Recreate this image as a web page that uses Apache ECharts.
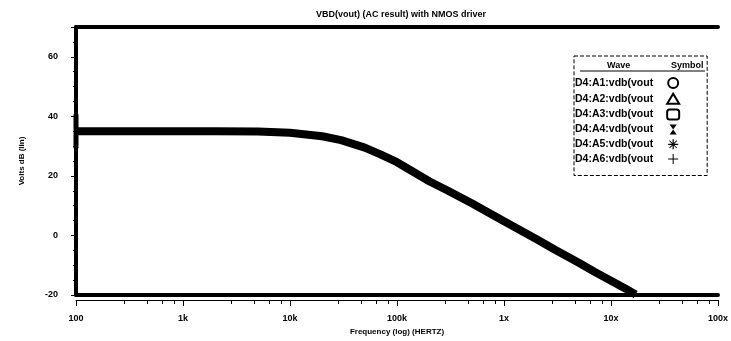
<!DOCTYPE html>
<html>
<head>
<meta charset="utf-8">
<script src="https://cdn.jsdelivr.net/npm/echarts@6/dist/echarts.min.js"></script>
<style>
  html, body { margin: 0; padding: 0; background: #fff; }
  #chart { width: 731px; height: 341px; }
</style>
</head>
<body>
<div id="chart"></div>
<script>
// values (AC sweep, all six waves overlap)
var freqHz = [100, 200, 500, 1e3, 2e3, 5e3, 1e4, 2e4, 3e4, 5e4, 7e4, 1e5, 2e5, 3e5, 5e5, 7e5, 1e6, 2e6, 3e6, 5e6, 7e6, 1e7, 1.4e7, 1.7e7]
var gainDb = [35.0, 35.0, 35.0, 35.0, 35.0, 34.9, 34.5, 33.3, 32.0, 29.5, 27.2, 24.6, 18.2, 15.0, 10.8, 7.9, 4.8, -1.2, -4.8, -9.2, -12.2, -15.2, -18.1, -19.8]
var waveNames = ['D4:A1:vdb(vout', 'D4:A2:vdb(vout', 'D4:A3:vdb(vout', 'D4:A4:vdb(vout', 'D4:A5:vdb(vout', 'D4:A6:vdb(vout']
var tickValues = [100, 1e3, 1e4, 1e5, 1e6, 1e7, 1e8]
var tickLabels = ['100', '1k', '10k', '100k', '1x', '10x', '100x']

var waveIcons = [
  'emptyCircle',
  'emptyTriangle',
  'emptyRoundRect',
  'path://M0,0 L10,0 L0,14 L10,14 Z',
  'path://M4.4,0 L5.6,0 L5.6,4.4 L10,4.4 L10,5.6 L5.6,5.6 L5.6,10 L4.4,10 L4.4,5.6 L0,5.6 L0,4.4 L4.4,4.4 Z M1,1.6 L1.6,1 L9,8.4 L8.4,9 Z M8.4,1 L9,1.6 L1.6,9 L1,8.4 Z',
  'path://M4.5,0 L5.5,0 L5.5,4.5 L10,4.5 L10,5.5 L5.5,5.5 L5.5,10 L4.5,10 L4.5,5.5 L0,5.5 L0,4.5 L4.5,4.5 Z'
]

var chart = echarts.init(document.getElementById('chart'))
var font = 'Liberation Sans, Arial, sans-serif'

var points = freqHz.map(function (f, i) { return [f, gainDb[i]] })

var series = waveNames.map(function (name, k) {
  var data = points.slice()
  if (k === 0) {
    // marker pile-up at the first sweep point
    data[0] = { value: points[0], symbol: 'rect', symbolSize: [5, 34] }
  }
  return {
    name: name,
    type: 'line',
    data: data,
    symbol: 'none',
    showSymbol: true,
    color: '#000',
    lineStyle: { color: '#000', width: k === 0 ? 8 : 3 },
    itemStyle: { color: '#000' },
    animation: false
  }
})

var logAxisBase = {
  type: 'log',
  logBase: 10,
  min: 100,
  max: 1e8,
  splitLine: { show: false }
}

var option = {
  backgroundColor: '#fff',
  animation: false,
  title: {
    text: 'VBD(vout) (AC result) with NMOS driver',
    left: 311,
    top: 5,
    textStyle: { fontFamily: font, fontSize: 9, fontWeight: 'bold', color: '#000' }
  },
  grid: { left: 76, right: 2, top: 27, bottom: 43 },
  legend: {
    orient: 'vertical',
    left: 574,
    top: 56,
    align: 'right',
    padding: [21, 27, 11, 1],
    itemWidth: 12,
    itemHeight: 10,
    itemGap: 3.7,
    borderColor: '#000',
    borderWidth: 1,
    borderType: 'dashed',
    textStyle: { fontFamily: font, fontSize: 10.5, fontWeight: 'bold', color: '#000', lineHeight: 11, padding: [0, 9, 0, 0] },
    data: waveNames.map(function (n, i) {
      return { name: n, icon: waveIcons[i] }
    })
  },
  graphic: [
    { type: 'text', left: 607, top: 61, style: { text: 'Wave', font: 'bold 9px ' + font, fill: '#000' } },
    { type: 'text', left: 671, top: 61, style: { text: 'Symbol', font: 'bold 9px ' + font, fill: '#000' } },
    { type: 'line', shape: { x1: 580, y1: 71, x2: 705, y2: 71 }, style: { stroke: '#000', lineWidth: 1 } }
  ],
  xAxis: [
    Object.assign({}, logAxisBase, {
      position: 'bottom',
      name: 'Frequency (log) (HERTZ)',
      nameLocation: 'middle',
      nameGap: 33,
      nameTextStyle: { fontFamily: font, fontSize: 8, fontWeight: 'bold', color: '#000' },
      axisLine: { onZero: false, lineStyle: { color: '#000', width: 4 } },
      axisTick: { show: false },
      axisLabel: { show: false }
    }),
    Object.assign({}, logAxisBase, {
      position: 'bottom',
      offset: 5,
      axisLine: { onZero: false, lineStyle: { color: '#000', width: 1 } },
      axisTick: { show: true, length: 6, lineStyle: { color: '#000' } },
      minorTick: { show: true, splitNumber: 5, length: 4, lineStyle: { color: '#000' } },
      axisLabel: {
        margin: 14,
        fontFamily: font,
        fontSize: 9,
        fontWeight: 'bold',
        color: '#000',
        formatter: function (v) {
          var i = tickValues.indexOf(Math.round(v))
          return i >= 0 ? tickLabels[i] : ''
        }
      }
    }),
    Object.assign({}, logAxisBase, {
      position: 'top',
      axisLine: { onZero: false, lineStyle: { color: '#000', width: 4 } },
      axisTick: { show: false },
      axisLabel: { show: false }
    })
  ],
  yAxis: {
    type: 'value',
    min: -20,
    max: 70,
    interval: 20,
    name: 'Volts dB (lin)',
    nameLocation: 'middle',
    nameGap: 50,
    nameTextStyle: { fontFamily: font, fontSize: 8, fontWeight: 'bold', color: '#000' },
    splitLine: { show: false },
    axisLine: { show: true, onZero: false, lineStyle: { color: '#000', width: 4 } },
    axisTick: { show: true, length: 5, lineStyle: { color: '#000' } },
    minorTick: { show: true, splitNumber: 4, length: 3, lineStyle: { color: '#000' } },
    axisLabel: {
      showMaxLabel: false,
      margin: 18,
      fontFamily: font,
      fontSize: 9,
      fontWeight: 'bold',
      color: '#000'
    }
  },
  series: series
}

chart.setOption(option)
</script>
</body>
</html>
